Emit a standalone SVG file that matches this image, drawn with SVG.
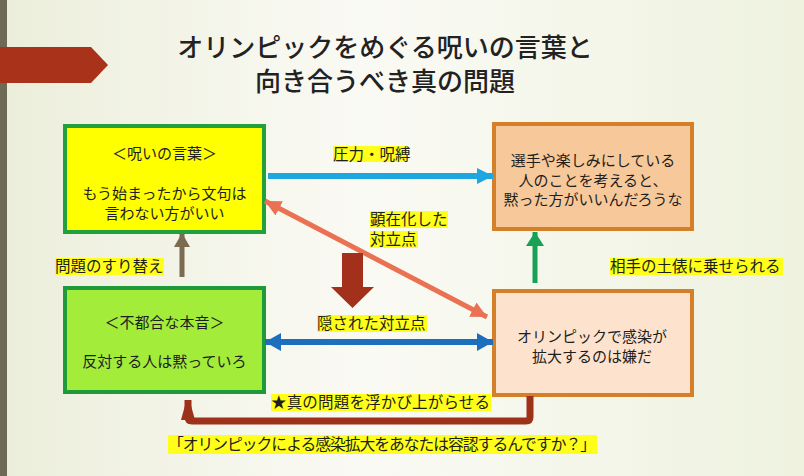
<svg xmlns="http://www.w3.org/2000/svg" width="804" height="476" viewBox="0 0 804 476">
<defs>
<linearGradient id="bg" x1="0" y1="0" x2="1" y2="0">
<stop offset="0" stop-color="#eceedb"/>
<stop offset="0.45" stop-color="#fafaf4"/>
<stop offset="1" stop-color="#eef2df"/>
</linearGradient>
<marker id="hLB" markerUnits="userSpaceOnUse" markerWidth="18" markerHeight="18" refX="16" refY="9" orient="auto"><path d="M0,1 L16,9 L0,17 Z" fill="#1ea6e0"/></marker>
<marker id="hSA" markerUnits="userSpaceOnUse" markerWidth="18" markerHeight="18" refX="16" refY="9" orient="auto-start-reverse"><path d="M0,1 L16,9 L0,17 Z" fill="#ea7152"/></marker>
<marker id="hDB" markerUnits="userSpaceOnUse" markerWidth="18" markerHeight="20" refX="16" refY="10" orient="auto-start-reverse"><path d="M0,1 L16,10 L0,19 Z" fill="#1d6fbd"/></marker>
<marker id="hBR" markerUnits="userSpaceOnUse" markerWidth="18" markerHeight="18" refX="14" refY="9" orient="auto"><path d="M0,1 L14,9 L0,17 Z" fill="#7b6b4f"/></marker>
<marker id="hGR" markerUnits="userSpaceOnUse" markerWidth="18" markerHeight="20" refX="14" refY="10" orient="auto"><path d="M0,1 L14,10 L0,19 Z" fill="#18a055"/></marker>
<marker id="hDR" markerUnits="userSpaceOnUse" markerWidth="20" markerHeight="16" refX="20" refY="8" orient="auto"><path d="M0,1 L20,6.5 L20,9.5 L0,15 Z" fill="#9e311a"/></marker>
</defs>
<style>
text{font-family:"Noto Sans CJK JP","Noto Sans",sans-serif;fill:#1e1e1e}
.title{font-size:26px;text-anchor:middle;fill:#222222;font-weight:500}
.box{font-size:15px;text-anchor:middle}
.lbl{font-size:15.5px}
.hl{fill:#ffff1a}
.ln{fill:none}
</style>
<rect x="0" y="0" width="804" height="476" fill="url(#bg)"/>
<rect x="0" y="0" width="7" height="476" fill="#6f6a55"/>
<polygon points="0,47 91,47 108,65 91,83 0,83" fill="#a8321a"/>
<g id="title">
<text class="title" x="385" y="57">オリンピックをめぐる呪いの言葉と</text>
<text class="title" x="385" y="91">向き合うべき真の問題</text>
</g>
<g id="node-curse">
<rect x="65" y="126" width="199" height="106" fill="#ffff00" stroke="#22a03c" stroke-width="4"/>
<text class="box" x="164.5" y="159">＜呪いの言葉＞</text>
<text class="box" x="164.5" y="199">もう始まったから文句は</text>
<text class="box" x="164.5" y="219">言わない方がいい</text>
</g>
<g id="node-athletes">
<rect x="494" y="124" width="198" height="105" fill="#f7c89a" stroke="#d4802a" stroke-width="4"/>
<text class="box" x="593" y="166">選手や楽しみにしている</text>
<text class="box" x="593" y="186">人のことを考えると、</text>
<text class="box" x="593" y="205">黙った方がいいんだろうな</text>
</g>
<g id="node-honne">
<rect x="65" y="288" width="199" height="104" fill="#a3ec3a" stroke="#1f9a3a" stroke-width="4"/>
<text class="box" x="164.5" y="328">＜不都合な本音＞</text>
<text class="box" x="164.5" y="367">反対する人は黙っていろ</text>
</g>
<g id="node-infection">
<rect x="494" y="291" width="198" height="104" fill="#fde3cd" stroke="#d4802a" stroke-width="4"/>
<text class="box" x="592" y="342">オリンピックで感染が</text>
<text class="box" x="592" y="362">拡大するのは嫌だ</text>
</g>
<g id="connectors">
<line x1="268" y1="176" x2="493" y2="176" stroke="#1ea6e0" stroke-width="6" marker-end="url(#hLB)"/>
<line x1="265" y1="201" x2="487" y2="317" stroke="#ea7152" stroke-width="5" marker-start="url(#hSA)" marker-end="url(#hSA)"/>
<line x1="265" y1="342" x2="493" y2="342" stroke="#1d6fbd" stroke-width="6" marker-start="url(#hDB)" marker-end="url(#hDB)"/>
<line x1="182" y1="277" x2="182" y2="233" stroke="#7b6b4f" stroke-width="5" marker-end="url(#hBR)"/>
<line x1="535" y1="283" x2="535" y2="232" stroke="#18a055" stroke-width="5" marker-end="url(#hGR)"/>
<polygon points="342,253 363,253 363,287 374,287 352.5,308 331,287 342,287" fill="#a2301b"/>
<path class="ln" d="M530,396 V417 Q530,421 526,421 H192 Q188,421 188,417 V400" stroke="#9e311a" stroke-width="7" marker-end="url(#hDR)"/>
</g>
<g id="labels">
<rect class="hl" x="333" y="146" width="74" height="16"/>
<text class="lbl" x="333" y="159.5">圧力・呪縛</text>
<rect class="hl" x="370" y="211" width="78" height="17"/>
<text class="lbl" x="370" y="225">顕在化した</text>
<rect class="hl" x="370" y="231" width="48" height="17"/>
<text class="lbl" x="370" y="245">対立点</text>
<rect class="hl" x="55" y="258" width="109" height="17"/>
<text class="lbl" x="55" y="272">問題のすり替え</text>
<rect class="hl" x="317" y="315" width="110" height="17"/>
<text class="lbl" x="317" y="329">隠された対立点</text>
<rect class="hl" x="610" y="258" width="173" height="17"/>
<text class="lbl" x="610" y="272">相手の土俵に乗せられる</text>
<rect class="hl" x="271" y="394" width="220" height="17"/>
<text class="lbl" x="271" y="408" textLength="219">★真の問題を浮かび上がらせる</text>
<rect class="hl" x="168" y="435" width="429" height="19"/>
<text class="lbl" x="168" y="450" textLength="428" style="font-size:15.8px">「オリンピックによる感染拡大をあなたは容認するんですか？」</text>
</g>
</svg>
